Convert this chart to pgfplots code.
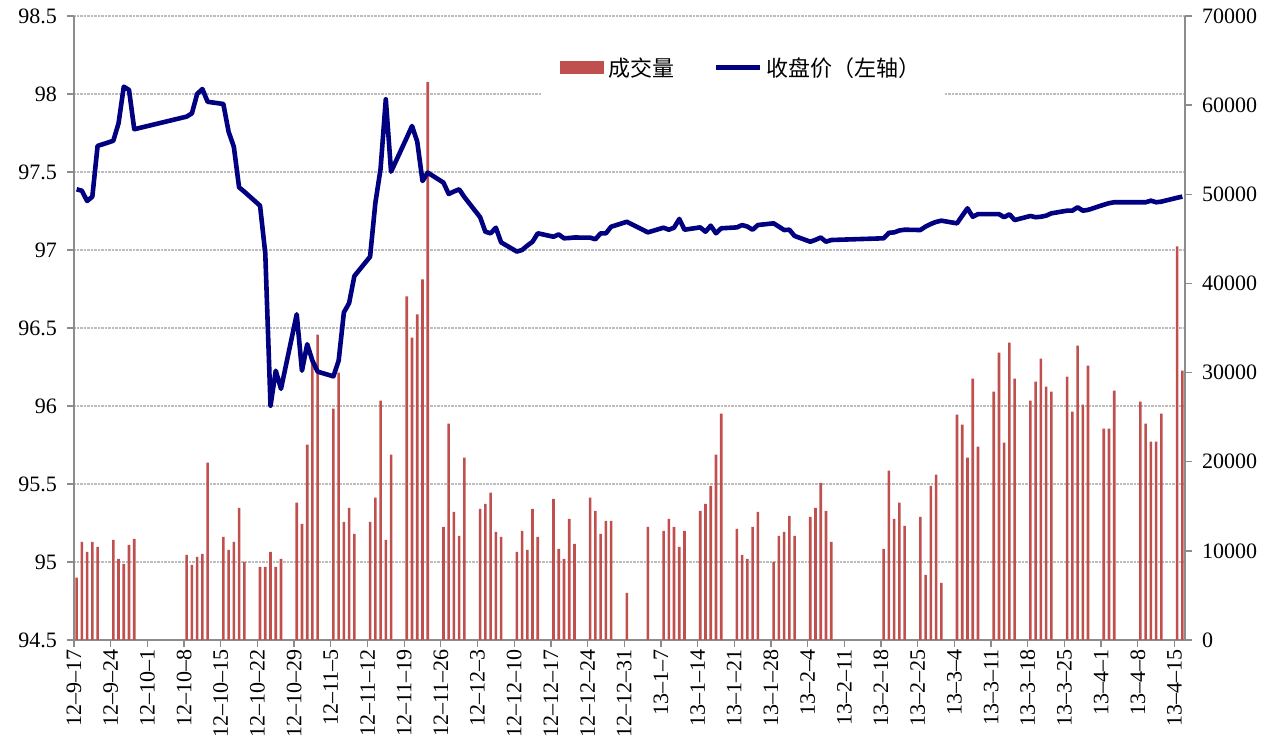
\documentclass[border=0pt]{standalone}
\usepackage{pgfplots}
\pgfplotsset{compat=1.18}
\usepackage{pgfplotstable}
\usepackage{fontspec}
\setmainfont{Liberation Serif}
\newfontfamily\cjk{Noto Sans CJK SC}
\definecolor{barred}{HTML}{C0504D}
\definecolor{linenavy}{HTML}{000080}
\definecolor{axgray}{HTML}{8C8C8C}
\definecolor{gridgray}{HTML}{BDBDBD}

\pgfplotstableread{
d v
0 7000
1 11000
2 9890
3 11000
4 10450
7 11240
8 9100
9 8540
10 10670
11 11350
21 9550
22 8430
23 9330
24 9660
25 19890
28 11570
29 10110
30 11000
31 14830
32 8760
35 8200
36 8200
37 9890
38 8200
39 9100
42 15400
43 13030
44 21910
45 31000
46 34270
49 25950
50 30000
51 13260
52 14830
53 11910
56 13260
57 15960
58 26850
59 11240
60 20790
63 38540
64 33930
65 36520
66 40450
67 62580
70 12700
71 24270
72 14380
73 11690
74 20450
77 14720
78 15280
79 16520
80 12130
81 11570
84 9890
85 12250
86 10110
87 14720
88 11570
91 15840
92 10220
93 9100
94 13600
95 10790
98 15960
99 14490
100 11910
101 13370
102 13370
105 5280
109 12700
112 12250
113 13600
114 12700
115 10450
116 12250
119 14490
120 15280
121 17300
122 20790
123 25390
126 12470
127 9550
128 9100
129 12700
130 14380
133 8760
134 11690
135 12130
136 13930
137 11690
140 13820
141 14830
142 17640
143 14490
144 11000
154 10220
155 18990
156 13600
157 15400
158 12810
161 13820
162 7300
163 17300
164 18540
165 6400
168 25280
169 24160
170 20450
171 29330
172 21690
175 27870
176 32250
177 22130
178 33370
179 29330
182 26850
183 28990
184 31570
185 28430
186 27870
189 29550
190 25620
191 33030
192 26400
193 30790
196 23710
197 23710
198 27980
203 26740
204 24270
205 22250
206 22250
207 25390
210 44160
211 30220
}\vol

\pgfplotstableread{
d p
0 97.389
1 97.380
2 97.314
3 97.342
4 97.667
7 97.700
8 97.812
9 98.047
10 98.026
11 97.774
21 97.855
22 97.876
23 98.000
24 98.032
25 97.950
28 97.936
29 97.758
30 97.662
31 97.402
32 97.374
35 97.284
36 96.979
37 96.002
38 96.226
39 96.110
42 96.588
43 96.226
44 96.396
45 96.290
46 96.220
49 96.190
50 96.290
51 96.600
52 96.660
53 96.833
56 96.957
57 97.300
58 97.520
59 97.966
60 97.502
63 97.720
64 97.795
65 97.694
66 97.442
67 97.496
70 97.432
71 97.359
72 97.375
73 97.389
74 97.339
77 97.210
78 97.117
79 97.107
80 97.143
81 97.049
84 96.990
85 97.000
86 97.028
87 97.053
88 97.107
91 97.085
92 97.100
93 97.075
94 97.077
95 97.080
98 97.079
99 97.069
100 97.107
101 97.107
102 97.149
105 97.181
109 97.113
112 97.143
113 97.130
114 97.143
115 97.199
116 97.130
119 97.145
120 97.117
121 97.156
122 97.107
123 97.139
126 97.145
127 97.160
128 97.150
129 97.130
130 97.160
133 97.171
134 97.150
135 97.128
136 97.130
137 97.090
140 97.053
141 97.065
142 97.080
143 97.053
144 97.064
154 97.075
155 97.110
156 97.113
157 97.125
158 97.130
161 97.128
162 97.150
163 97.167
164 97.180
165 97.188
168 97.171
169 97.220
170 97.267
171 97.213
172 97.230
175 97.230
176 97.230
177 97.210
178 97.229
179 97.192
182 97.218
183 97.210
184 97.213
185 97.220
186 97.235
189 97.252
190 97.252
191 97.274
192 97.252
193 97.257
196 97.290
197 97.300
198 97.306
203 97.306
204 97.306
205 97.316
206 97.306
207 97.310
210 97.335
211 97.342
}\price

\pgfplotsset{
  base/.style={
    at={(74pt,102pt)}, anchor=south west,
    scale only axis, width=1111pt, height=624pt,
    xmin=0, xmax=212,
    /pgf/number format/assume math mode=true,
    tick label style={font=\fontsize{22}{22}\selectfont},
    tick align=outside, major tick length=7pt,
    every tick/.style={axgray, line width=1.3pt},
    axis line style={axgray, line width=1.5pt, -},
  }
}

\begin{document}
\begin{tikzpicture}
% left axis with grid and x labels
\begin{axis}[base,
  ymin=94.5, ymax=98.5,
  axis x line*=bottom, axis y line*=left,
  xtick={0,7,...,210},
  xticklabels={12\textendash9\textendash17,12\textendash9\textendash24,12\textendash10\textendash1,12\textendash10\textendash8,12\textendash10\textendash15,12\textendash10\textendash22,12\textendash10\textendash29,12\textendash11\textendash5,12\textendash11\textendash12,12\textendash11\textendash19,12\textendash11\textendash26,12\textendash12\textendash3,12\textendash12\textendash10,12\textendash12\textendash17,12\textendash12\textendash24,12\textendash12\textendash31,13\textendash1\textendash7,13\textendash1\textendash14,13\textendash1\textendash21,13\textendash1\textendash28,13\textendash2\textendash4,13\textendash2\textendash11,13\textendash2\textendash18,13\textendash2\textendash25,13\textendash3\textendash4,13\textendash3\textendash11,13\textendash3\textendash18,13\textendash3\textendash25,13\textendash4\textendash1,13\textendash4\textendash8,13\textendash4\textendash15},
  xticklabel style={rotate=90, anchor=east, inner sep=2pt},
  ytick={94.5,95,95.5,96,96.5,97,97.5,98,98.5},
  yticklabels={94.5,95,95.5,96,96.5,97,97.5,98,98.5},
  yticklabel style={anchor=east, inner sep=2pt, xshift=-8pt},
  ymajorgrids,
  major grid style={gridgray, densely dotted, line width=1.1pt},
]
\end{axis}
% right axis with volume bars
\begin{axis}[base,
  ymin=0, ymax=70000,
  axis y line*=right, axis x line=none,
  ytick={0,10000,20000,30000,40000,50000,60000,70000},
  yticklabels={0,10000,20000,30000,40000,50000,60000,70000},
  yticklabel style={anchor=west, inner sep=2pt, xshift=8pt},
  ybar, bar width=2.6pt,
]
\addplot[fill=barred, draw=none] table[x expr=\thisrow{d}+0.5, y=v] {\vol};
\end{axis}
% close price line with legend
\begin{axis}[base,
  ymin=94.5, ymax=98.5, hide axis,
  legend columns=2,
  legend style={at={(0.602,0.9175)}, anchor=center, draw=none, fill=white,
    inner xsep=19pt, inner ysep=13pt,
    font=\cjk\fontsize{22}{22}\selectfont,
    nodes={inner sep=5pt, anchor=west},
    /tikz/every even column/.append style={column sep=34pt}},
]
\addlegendimage{legend image code/.code={\fill[barred] (0pt,-6pt) rectangle (43pt,6pt);}}
\addlegendentry{成交量}
\addplot[linenavy, line width=4.6pt, line join=round,
  legend image code/.code={\draw[linenavy, line width=4.6pt] (0pt,0pt) -- (44pt,0pt);}]
  table[x expr=\thisrow{d}+0.5, y=p] {\price};
\addlegendentry{收盘价（左轴）}
\end{axis}
\pgfresetboundingbox
\path[use as bounding box] (0,0) rectangle (1270pt,742pt);
\end{tikzpicture}
\end{document}
